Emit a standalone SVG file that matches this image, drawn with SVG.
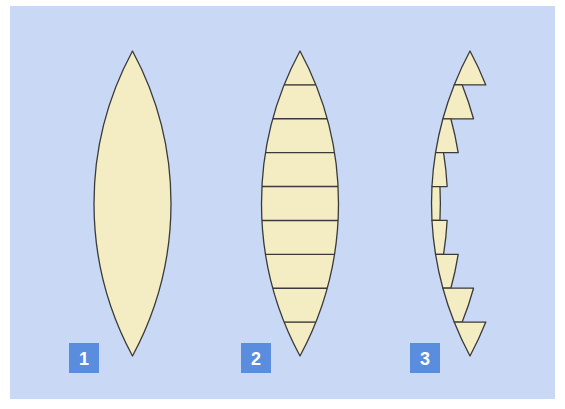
<svg xmlns="http://www.w3.org/2000/svg" width="565" height="409" viewBox="0 0 565 409">
<style>
.lens{fill:#f4ecc3;stroke:#3a3a3a;stroke-width:1.3;stroke-linejoin:round}
.cut{stroke:#3a3a3a;stroke-width:1.4}
.box{fill:#5b8ddf}
.num{fill:#ffffff;font-family:"Liberation Sans",Arial,sans-serif;font-size:18px;font-weight:bold;text-anchor:middle}
</style>
<rect x="0" y="0" width="565" height="409" fill="#ffffff"/>
<rect x="10" y="6" width="545" height="393" fill="#c9d9f5"/>
<g id="lens1">
<path class="lens" d="M132.5,51 A321.28,321.28 0 0 1 132.5,356 A321.28,321.28 0 0 1 132.5,51 Z"/>
</g>
<g id="lens2">
<path class="lens" d="M300,51 A321.28,321.28 0 0 1 300,356 A321.28,321.28 0 0 1 300,51 Z"/>
<line class="cut" x1="284.2" y1="84.89" x2="315.8" y2="84.89"/>
<line class="cut" x1="272.87" y1="118.78" x2="327.13" y2="118.78"/>
<line class="cut" x1="265.55" y1="152.67" x2="334.45" y2="152.67"/>
<line class="cut" x1="261.95" y1="186.56" x2="338.05" y2="186.56"/>
<line class="cut" x1="261.95" y1="220.44" x2="338.05" y2="220.44"/>
<line class="cut" x1="265.55" y1="254.33" x2="334.45" y2="254.33"/>
<line class="cut" x1="272.87" y1="288.22" x2="327.13" y2="288.22"/>
<line class="cut" x1="284.2" y1="322.11" x2="315.8" y2="322.11"/>
</g>
<g id="lens3">
<path class="lens" d="M470,51 A321.28,321.28 0 0 0 454.2,84.89 L485.8,84.89 A321.28,321.28 0 0 0 470,51 Z"/>
<path class="lens" d="M454.2,84.89 A321.28,321.28 0 0 0 442.87,118.78 L473.53,118.78 A321.28,321.28 0 0 0 462.2,84.89 Z"/>
<path class="lens" d="M442.87,118.78 A321.28,321.28 0 0 0 435.55,152.67 L458.19,152.67 A321.28,321.28 0 0 0 450.87,118.78 Z"/>
<path class="lens" d="M435.55,152.67 A321.28,321.28 0 0 0 431.95,186.56 L447.15,186.56 A321.28,321.28 0 0 0 443.55,152.67 Z"/>
<path class="lens" d="M431.95,186.56 A321.28,321.28 0 0 0 431.95,220.44 L439.95,220.44 A321.28,321.28 0 0 0 439.95,186.56 Z"/>
<path class="lens" d="M431.95,220.44 A321.28,321.28 0 0 0 435.55,254.33 L443.55,254.33 A321.28,321.28 0 0 0 447.15,220.44 Z"/>
<path class="lens" d="M435.55,254.33 A321.28,321.28 0 0 0 442.87,288.22 L450.87,288.22 A321.28,321.28 0 0 0 458.19,254.33 Z"/>
<path class="lens" d="M442.87,288.22 A321.28,321.28 0 0 0 454.2,322.11 L462.2,322.11 A321.28,321.28 0 0 0 473.53,288.22 Z"/>
<path class="lens" d="M454.2,322.11 A321.28,321.28 0 0 0 470,356 A321.28,321.28 0 0 0 485.8,322.11 Z"/>
</g>
<g id="label1"><rect class="box" x="69" y="343" width="30" height="30"/><text class="num" x="84" y="364.5">1</text></g>
<g id="label2"><rect class="box" x="241" y="343" width="30" height="30"/><text class="num" x="256" y="364.5">2</text></g>
<g id="label3"><rect class="box" x="410" y="343" width="30" height="30"/><text class="num" x="425" y="364.5">3</text></g>
</svg>
